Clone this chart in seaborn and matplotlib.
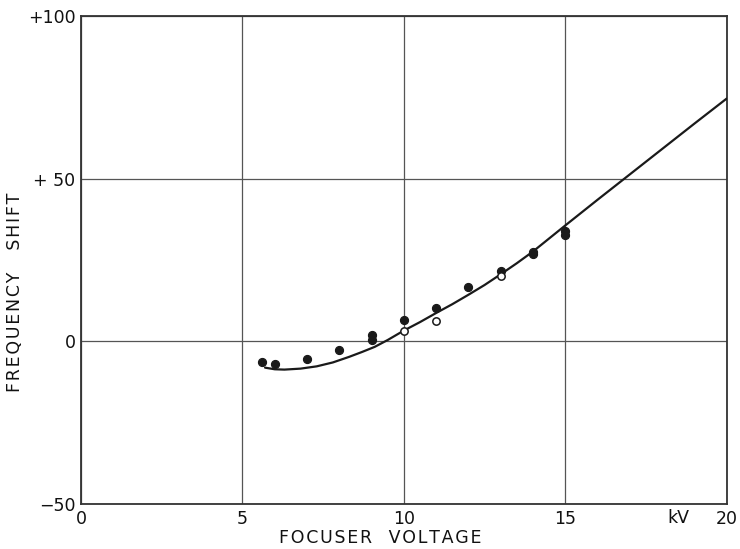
import matplotlib
matplotlib.use("Agg")
import matplotlib.pyplot as plt
import seaborn as sns
import pandas as pd

sns.set_theme(style="white")
plt.rcParams['font.family'] = ['DejaVu Sans']

# measured points, filled circles
volt_filled = [5.6, 6.0, 7.0, 8.0, 9.0, 9.0, 10.0, 11.0, 12.0, 13.0, 14.0, 14.0, 15.0, 15.0]
shift_filled = [-6.5, -6.9, -5.5, -2.8, 1.8, 0.5, 6.6, 10.3, 16.7, 21.6, 27.5, 26.8, 33.8, 32.6]

# measured points, open circles
volt_open = [10.0, 11.0, 13.0]
shift_open = [3.2, 6.1, 20.1]

# drawn curve
curve_volt = [5.7, 6.0, 6.3, 6.8, 7.3, 7.8, 8.3, 8.7, 9.1, 9.5, 10.0, 10.5, 11.0, 11.5, 12.0,
              12.5, 13.0, 13.5, 14.0, 14.5, 15.0, 16.0, 17.0, 18.0, 19.0, 20.0]
curve_shift = [-8.1, -8.6, -8.7, -8.4, -7.7, -6.5, -4.8, -3.3, -1.7, 0.4, 3.3, 5.9, 8.7, 11.4, 14.3,
               17.3, 20.6, 24.0, 27.6, 31.6, 35.6, 43.5, 51.3, 59.1, 66.9, 74.6]

df_f = pd.DataFrame({'v': volt_filled, 's': shift_filled})
df_o = pd.DataFrame({'v': volt_open, 's': shift_open})
df_c = pd.DataFrame({'v': curve_volt, 's': curve_shift})

ink = '#1a1a1a'

fig = plt.figure(figsize=(7.4, 5.49), dpi=100)
ax = fig.add_axes([0.1095, 0.082, 0.8725, 0.889])

sns.lineplot(data=df_c, x='v', y='s', sort=False, color=ink, linewidth=1.6, ax=ax, zorder=3)
sns.scatterplot(data=df_f, x='v', y='s', color=ink, s=34, edgecolor=ink, linewidth=0.8, ax=ax, zorder=4)
sns.scatterplot(data=df_o, x='v', y='s', color='white', s=28, edgecolor=ink, linewidth=1.1, ax=ax, zorder=4)

ax.set_xlim(0, 20)
ax.set_ylim(-50, 100)
ax.set_xticks([0, 5, 10, 15, 20])
ax.set_xticklabels(['0', '5', '10', '15', '20'])
ax.set_yticks([-50, 0, 50, 100])
ax.set_yticklabels(['\u221250', '0', '+ 50', '+100'])
ax.tick_params(axis='both', length=0, labelsize=12.5, colors='#111111', pad=4)

ax.grid(True, color='#555555', linewidth=0.9)
for sp in ax.spines.values():
    sp.set_color('#333333')
    sp.set_linewidth(1.3)

ax.text(18.5, -51.5, 'kV', ha='center', va='top', fontsize=12.5, color='#111111', clip_on=False)


def spaced(s):
    return '\u200a'.join(s)


ax.set_xlabel(spaced('FOCUSER') + '   ' + spaced('VOLTAGE'), fontsize=12.5, color='#111111', labelpad=1)
ax.xaxis.set_label_coords(0.464, -0.052)
ax.set_ylabel(spaced('FREQUENCY') + '    ' + spaced('SHIFT'), fontsize=12.5, color='#111111')
ax.yaxis.set_label_coords(-0.088, 0.434)

fig.savefig('out.png', dpi=100, facecolor='white')
